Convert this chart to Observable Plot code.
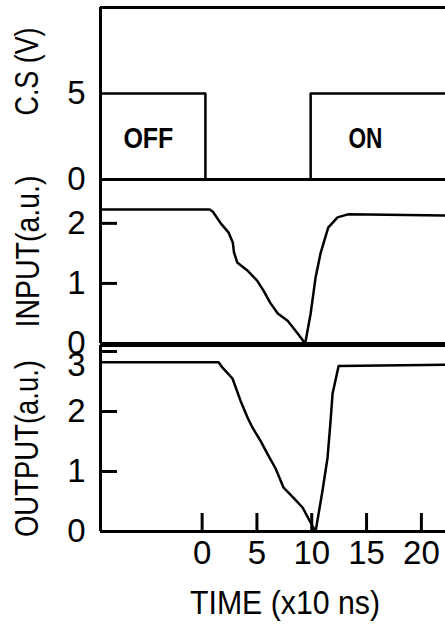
<!DOCTYPE html>
<html><head><meta charset="utf-8">
<script src="https://cdn.jsdelivr.net/npm/d3@7"></script>
<script src="https://cdn.jsdelivr.net/npm/@observablehq/plot@0.6"></script>
<style>
body{margin:0;background:#fff}
#chart{position:relative;width:445px;height:627px;overflow:hidden;background:#fff}
#chart svg{position:absolute;left:0;top:0}
</style></head><body><div id="chart"></div>
<script>
// ---- data ----
const timeDomain = [-9.27, 22.2];
const timeTicks = [0, 5, 10, 15, 20];

const csTime = [-9.27, 0.3, 9.9, 22.2];
const csVolt = [5, 0, 5, 5];
const csTicks = [0, 5];
const csDomain = [0, 10];

const stateLabels = ["OFF", "ON"];
const stateTime = [-4.9, 14.9];
const stateVolt = [2.38, 2.38];

const inputTime = [-9.27, 0.7, 1.0, 1.7, 2.4, 2.8, 2.9, 3.2, 4.1, 5.0, 5.6, 6.2, 6.9, 7.8, 8.7, 9.4, 9.9, 10.35, 10.8, 11.5, 12.35, 13.3, 22.2];
const inputValue = [2.23, 2.23, 2.19, 2.0, 1.85, 1.68, 1.52, 1.35, 1.22, 1.05, 0.88, 0.68, 0.5, 0.38, 0.17, 0, 0.5, 1.1, 1.5, 1.93, 2.10, 2.15, 2.13];
const inputTicks = [0, 1, 2];
const inputDomain = [0, 2.73];

const outputTime = [-9.27, 1.5, 1.86, 2.77, 3.5, 4.14, 4.6, 5.33, 5.97, 6.7, 7.43, 8.34, 9.16, 9.89, 10.35, 10.98, 11.44, 11.72, 11.9, 12.45, 22.2];
const outputValue = [2.82, 2.82, 2.73, 2.55, 2.18, 1.90, 1.73, 1.51, 1.29, 1.05, 0.73, 0.56, 0.40, 0.15, 0, 0.68, 1.23, 1.85, 2.30, 2.76, 2.78];
const outputTicks = [0, 1, 2, 3];
const outputDomain = [0, 3.1];

const csLabel = "C.S (V)";
const inputLabel = "INPUT(a.u.)";
const outputLabel = "OUTPUT(a.u.)";
const timeLabel = "TIME (x10 ns)";

// ---- layout ----
const W = 445, H = 627;
const common = {
  width: W, height: H, marginLeft: 100, marginRight: 0,
  style: {background: "transparent", fontFamily: "'Liberation Sans', Arial, sans-serif", overflow: "visible", color: "#000"}
};
const idx = a => a.map((_, i) => i);
const FS = 33;
const fmt = d => String(d);
const topOut = outputTicks[outputTicks.length - 1];

function condense(svg, text, len) {
  d3.select(svg).selectAll("text").filter(function(){ return this.textContent === text; })
    .attr("textLength", len).attr("lengthAdjust", "spacingAndGlyphs");
}

const p1 = Plot.plot({
  ...common, marginTop: 7, marginBottom: H - 179,
  x: {domain: timeDomain, axis: null},
  y: {domain: csDomain},
  marks: [
    Plot.axisY(csTicks, {tickSize: 0, tickPadding: 15, fontSize: FS, label: null, tickFormat: fmt}),
    Plot.ruleY([csDomain[0], csDomain[1]], {strokeWidth: 3}),
    Plot.ruleX([timeDomain[0]], {strokeWidth: 3}),
    Plot.line(idx(csTime), {x: i => csTime[i], y: i => csVolt[i], curve: "step-after", strokeWidth: 2.5}),
    Plot.text(stateLabels, {x: (d, i) => stateTime[i], y: (d, i) => stateVolt[i], text: d => d, fontSize: 29, fontWeight: "bold"}),
    Plot.text([csLabel], {frameAnchor: "left", textAnchor: "middle", dx: -73, dy: -22, rotate: -90, fontSize: 34, text: d => d})
  ]
});

const p2 = Plot.plot({
  ...common, marginTop: 179, marginBottom: H - 343,
  x: {domain: timeDomain, axis: null},
  y: {domain: inputDomain},
  marks: [
    Plot.axisY(inputTicks, {tickSize: 0, tickPadding: 15, fontSize: FS, label: null, tickFormat: fmt}),
    Plot.tickY(inputTicks.filter(d => d > 0), {y: d => d, insetRight: (W - 100) - 17, strokeWidth: 3}),
    Plot.ruleY([inputDomain[0]], {strokeWidth: 3}),
    Plot.ruleX([timeDomain[0]], {strokeWidth: 3}),
    Plot.line(idx(inputTime), {x: i => inputTime[i], y: i => inputValue[i], strokeWidth: 2.5}),
    Plot.text([inputLabel], {frameAnchor: "left", textAnchor: "middle", dx: -72, dy: -10, rotate: -90, fontSize: 34, text: d => d})
  ]
});

const p3 = Plot.plot({
  ...common, marginTop: 345, marginBottom: H - 531,
  x: {domain: timeDomain},
  y: {domain: outputDomain},
  marks: [
    Plot.axisY(outputTicks.filter(d => d < topOut), {tickSize: 0, tickPadding: 15, fontSize: FS, label: null, tickFormat: fmt}),
    Plot.axisY([topOut], {tickSize: 0, tickPadding: 15, fontSize: FS, label: null, tickFormat: fmt, dy: 14}),
    Plot.axisX(timeTicks, {tickSize: 0, tickPadding: 9, fontSize: FS, label: null, tickFormat: fmt}),
    Plot.tickY(outputTicks.filter(d => d > 0), {y: d => d, insetRight: (W - 100) - 17, strokeWidth: 3}),
    Plot.tickX(timeTicks, {x: d => d, insetTop: (531 - 345) - 18, strokeWidth: 3}),
    Plot.ruleY([outputDomain[0], outputDomain[1]], {strokeWidth: 3}),
    Plot.ruleX([timeDomain[0]], {strokeWidth: 3}),
    Plot.line(idx(outputTime), {x: i => outputTime[i], y: i => outputValue[i], strokeWidth: 2.5}),
    Plot.text([outputLabel], {frameAnchor: "left", textAnchor: "middle", dx: -73, dy: 10, rotate: -90, fontSize: 34, text: d => d}),
    Plot.text([timeLabel], {frameAnchor: "bottom", dx: 12, dy: 82, fontSize: 33, text: d => d})
  ]
});

condense(p1, csLabel, 88);
condense(p2, inputLabel, 152);
condense(p3, outputLabel, 177);
condense(p3, timeLabel, 190);
condense(p1, "OFF", 50);
condense(p1, "ON", 34);

const chart = document.getElementById("chart");
chart.append(p1, p2, p3);
</script>
</body></html>
